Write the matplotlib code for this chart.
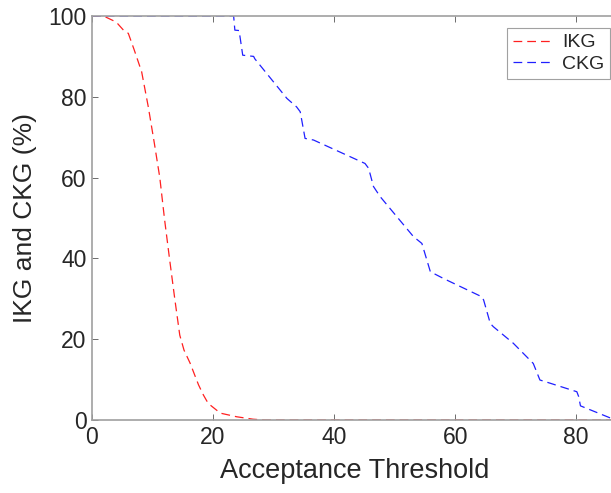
import numpy as np
import matplotlib
matplotlib.use('Agg')
import matplotlib.pyplot as plt

plt.rcParams['font.family'] = ['Liberation Sans', 'DejaVu Sans']

# values
ikg_x = [0, 1.9, 4.0, 5.2, 6.0, 7.0, 8.2, 9.3, 10.3, 11.2, 12.0, 12.8, 13.7, 14.5, 15.2,
         16.2, 17.0, 17.6, 18.4, 19.2, 21.2, 23.9, 26.6, 28.5, 100]
ikg_y = [100, 100, 98.5, 96.5, 95.7, 91.5, 86.2, 77.5, 68.5, 60.0, 49.5, 40.0, 29.7, 21.0, 17.3,
         14.1, 11.0, 8.7, 6.2, 4.1, 1.7, 0.8, 0.2, 0, 0]
ckg_x = [0, 23.4, 23.6, 24.3, 24.9, 26.7, 26.9, 32.2, 33.8, 34.4, 35.2, 36.6, 45.1, 45.7, 46.5,
         47.6, 53.1, 54.5, 55.9, 58.1, 64.4, 64.7, 65.8, 66.3, 69.6, 72.9, 74.0, 75.7, 80.1,
         80.4, 80.7, 85.8, 87.0, 100]
ckg_y = [100, 100, 96.5, 96.4, 90.3, 90.0, 89.4, 79.6, 77.5, 76.3, 69.7, 69.3, 63.5, 62.3, 57.8,
         55.3, 45.4, 43.7, 36.7, 35.0, 30.5, 29.7, 23.9, 23.1, 19.0, 14.0, 9.9, 9.1, 7.0,
         5.8, 3.5, 0.4, 0, 0]

fig = plt.figure(figsize=(6.11, 4.93), dpi=100)
# axes runs past the right edge, as in the cropped reference
ax = fig.add_axes([92/611, 73/493, 526/611, 404/493])

ax.plot(ikg_x, ikg_y, color='#ff2020', lw=0.9, ls=(0, (7, 4)), label='IKG')
ax.plot(ckg_x, ckg_y, color='#2020ff', lw=0.9, ls=(0, (7, 4)), label='CKG')

ax.set_xlim(0, 86.9)
ax.set_ylim(0, 100)
ax.set_xticks([0, 20, 40, 60, 80])
ax.set_yticks([0, 20, 40, 60, 80, 100])
ax.tick_params(direction='in', top=True, right=True, labelsize=16.5, labelcolor='#262626',
               color='#555555', length=4, width=0.6, pad=4)
for s in ax.spines.values():
    s.set_color('#a0a0a0')
    s.set_linewidth(1.2)

ax.set_xlabel('Acceptance Threshold', fontsize=19.5, color='#262626', labelpad=7)
ax.set_ylabel('IKG and CKG (%)', fontsize=19, color='#262626', labelpad=8)

leg = ax.legend(loc='upper right', bbox_to_anchor=(610/611, 465/493),
                bbox_transform=fig.transFigure, fontsize=14, frameon=True,
                fancybox=False, handlelength=1.9, borderpad=0.3, labelspacing=0.2,
                handletextpad=0.6, borderaxespad=0)
leg.get_frame().set_edgecolor('#8a8a8a')
leg.get_frame().set_linewidth(0.8)
for t in leg.get_texts():
    t.set_color('#262626')

fig.savefig('out.png', dpi=100)
